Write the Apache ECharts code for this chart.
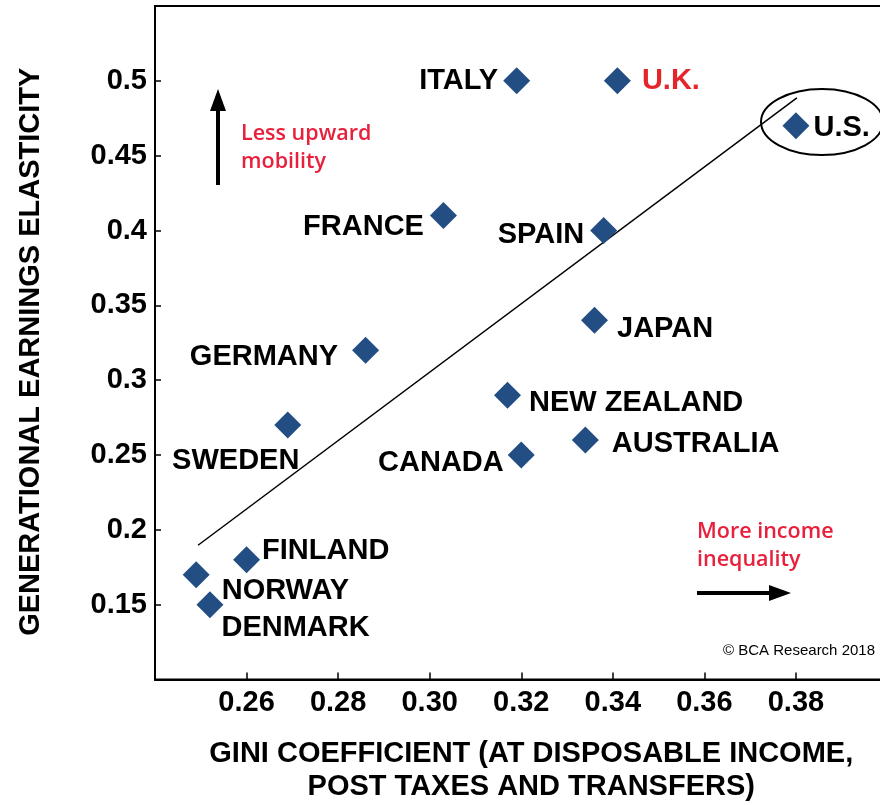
<!DOCTYPE html>
<html><head><meta charset="utf-8">
<script src="https://cdn.jsdelivr.net/npm/echarts@6/dist/echarts.min.js"></script>
<style>html,body{margin:0;padding:0;background:#fff}#c{width:880px;height:805px}</style>
</head><body><div id="c"></div>
<script>
const countries = ['ITALY','U.K.','U.S.','FRANCE','SPAIN','JAPAN','GERMANY','NEW ZEALAND','SWEDEN','AUSTRALIA','CANADA','FINLAND','NORWAY','DENMARK'];
const gini =       [0.319, 0.341, 0.380, 0.303, 0.338, 0.336, 0.286, 0.317, 0.269, 0.334, 0.320, 0.260, 0.249, 0.252];
const elasticity = [0.50,  0.50,  0.47,  0.41,  0.40,  0.34,  0.32,  0.29,  0.27,  0.26,  0.25,  0.18,  0.17,  0.15];
const trendX = [0.2494, 0.3802];
const trendY = [0.1897, 0.4886];
const xTicks = ['0.26','0.28','0.30','0.32','0.34','0.36','0.38'];
const yTicks = ['0.15','0.2','0.25','0.3','0.35','0.4','0.45','0.5'];

// label placement (style)
const labelPlace = {
  'ITALY': {position:'left', offset:[0,0]},
  'U.K.': {position:'right', offset:[6,0], color:'#e3262b'},
  'U.S.': {position:'right', offset:[-1,2]},
  'FRANCE': {position:'left', offset:[-1,11]},
  'SPAIN': {position:'left', offset:[-1,4]},
  'JAPAN': {position:'right', offset:[4,9]},
  'GERMANY': {position:'left', offset:[-9,7]},
  'NEW ZEALAND': {position:'right', offset:[3,8]},
  'SWEDEN': {position:'bottom', offset:[-52,3]},
  'AUSTRALIA': {position:'right', offset:[8,4]},
  'CANADA': {position:'left', offset:[1,8]},
  'FINLAND': {position:'right', offset:[-3,-9]},
  'NORWAY': {position:'right', offset:[7,16]},
  'DENMARK': {position:'right', offset:[-7,23]}
};

const fontFam = '"Liberation Sans", Arial, sans-serif';
const pts = countries.map((c,i)=>{
  const p = labelPlace[c];
  return {name:c, value:[gini[i], elasticity[i]], label:{position:p.position, offset:p.offset, color:p.color||'#000'}};
});

const chart = echarts.init(document.getElementById('c'));
chart.setOption({
  animation:false,
  grid:{left:155, top:6, width:732.5, height:673.5, outerBoundsMode:'none', containLabel:false,
    show:true, borderColor:'#000', borderWidth:2, backgroundColor:'transparent'},
  xAxis:{type:'value', min:0.24, max:0.40, interval:0.02,
    axisLine:{show:true, lineStyle:{color:'#000', width:2}},
    axisTick:{show:true, inside:true, length:7, lineStyle:{color:'#000', width:1.5}},
    splitLine:{show:false},
    axisLabel:{margin:9, color:'#000', fontFamily:fontFam, fontWeight:'bold', fontSize:29,
      formatter:v=>{const s=v.toFixed(2); return xTicks.includes(s)?s:'';}},
    name:'GINI COEFFICIENT (AT DISPOSABLE INCOME,\nPOST TAXES AND TRANSFERS)',
    nameLocation:'middle', nameGap:58,
    nameTextStyle:{color:'#000', fontFamily:fontFam, fontWeight:'bold', fontSize:29, lineHeight:33, padding:[0,0,0,20]}
  },
  yAxis:{type:'value', min:0.10, max:0.55, interval:0.05,
    axisLine:{show:true, lineStyle:{color:'#000', width:2}},
    axisTick:{show:true, inside:true, length:6, lineStyle:{color:'#000', width:1.5}},
    splitLine:{show:false},
    axisLabel:{margin:8, color:'#000', fontFamily:fontFam, fontWeight:'bold', fontSize:29,
      formatter:v=>{const s=String(parseFloat(v.toFixed(2))); return yTicks.includes(s)?s:'';}},
    name:'GENERATIONAL EARNINGS ELASTICITY',
    nameLocation:'middle', nameGap:110, nameRotate:90,
    nameTextStyle:{color:'#000', fontFamily:fontFam, fontWeight:'bold', fontSize:29, padding:[0,18,0,0]}
  },
  series:[
    {type:'line', data:trendX.map((x,i)=>[x,trendY[i]]), symbol:'none', silent:true,
      lineStyle:{color:'#000', width:1.5}, z:1},
    {type:'scatter', data:pts, symbol:'diamond', symbolSize:27,
      itemStyle:{color:'#234e83', opacity:1},
      label:{show:true, formatter:'{b}', fontFamily:fontFam, fontWeight:'bold', fontSize:29, distance:5, opacity:1},
      z:3}
  ],
  graphic:[
    {type:'ellipse', shape:{cx:822, cy:122, rx:61, ry:33}, style:{fill:'none', stroke:'#000', lineWidth:2}, z:10},
    {type:'line', shape:{x1:218, y1:185, x2:218, y2:104}, style:{stroke:'#000', lineWidth:4}},
    {type:'polygon', shape:{points:[[218,89],[210,111],[226,111]]}, style:{fill:'#000'}},
    {type:'line', shape:{x1:697, y1:593, x2:776, y2:593}, style:{stroke:'#000', lineWidth:4}},
    {type:'polygon', shape:{points:[[791,593],[769,585],[769,601]]}, style:{fill:'#000'}},
    {type:'text', x:241, y:120, style:{text:'Less upward\nmobility', fill:'#e9203c', font:'600 21.5px "Open Sans", sans-serif', lineHeight:28}},
    {type:'text', x:697, y:518, style:{text:'More income\ninequality', fill:'#e9203c', font:'600 21.5px "Open Sans", sans-serif', lineHeight:28}},
    {type:'text', x:875, y:651, style:{text:'© BCA Research 2018', fill:'#000', font:'15px "Liberation Sans", Arial, sans-serif', align:'right', verticalAlign:'middle'}}
  ]
});
</script></body></html>
